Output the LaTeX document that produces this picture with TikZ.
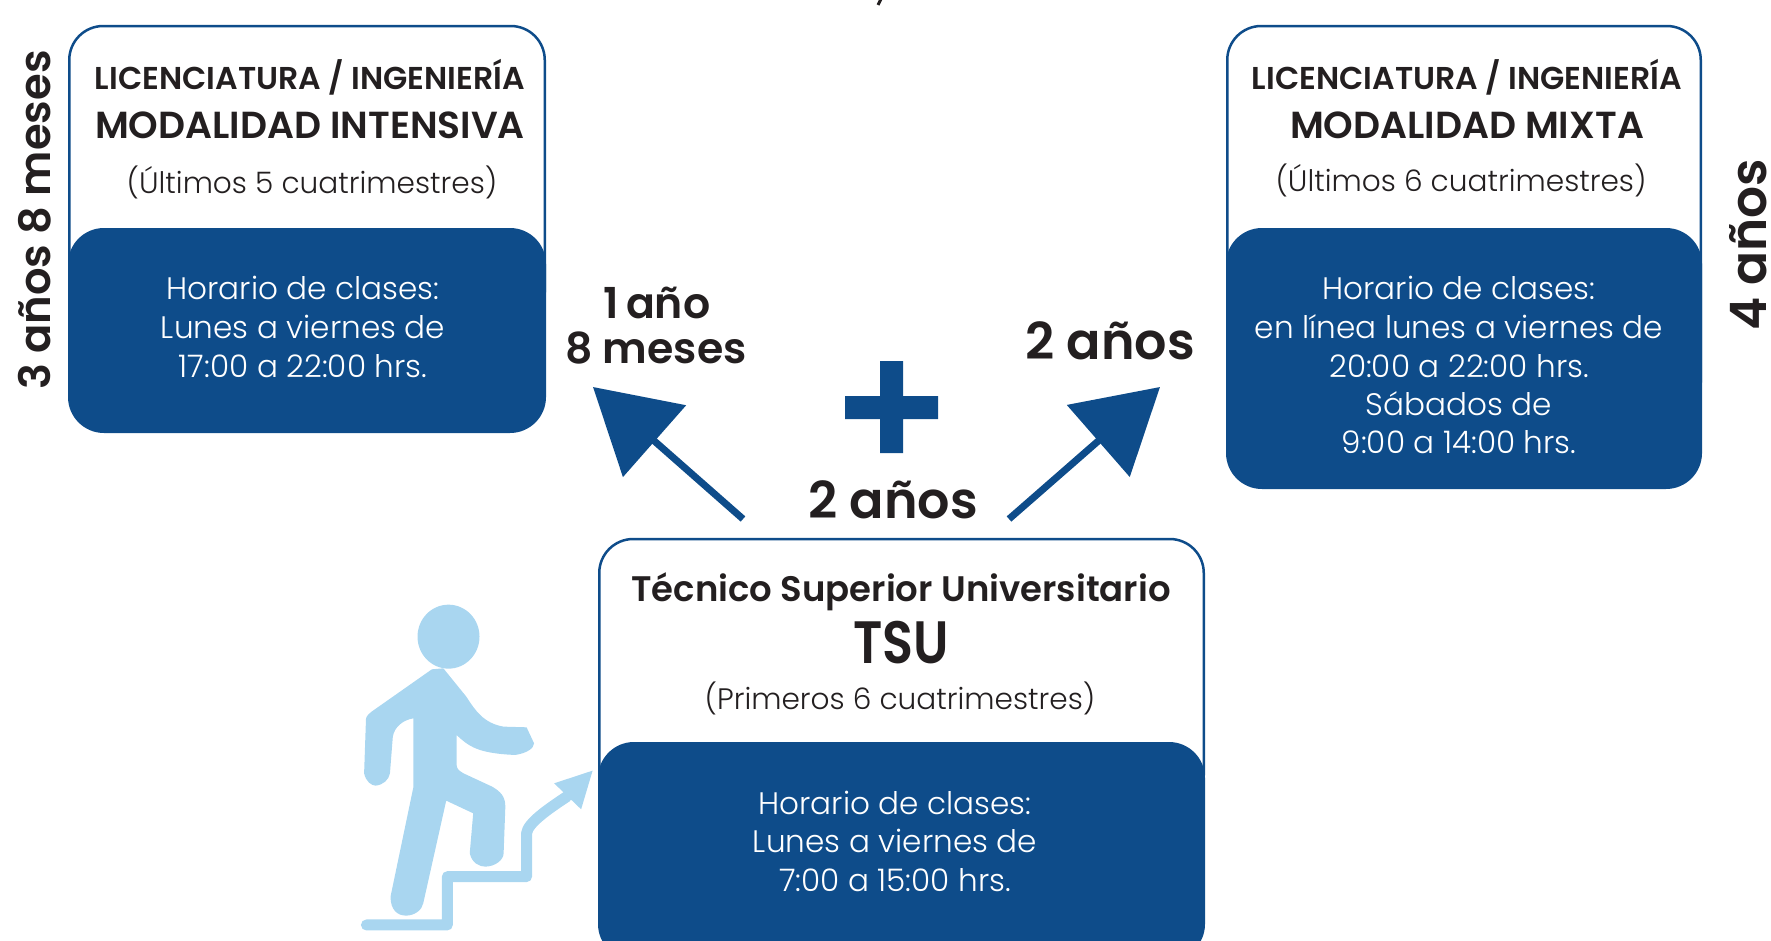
\documentclass[tikz,border=0pt]{standalone}
\usepackage{fontspec}
\usetikzlibrary{arrows.meta}
\setmainfont{Poppins}
\newfontfamily\lightf{Poppins Light}
\newfontfamily\semif{Poppins SemiBold}
\definecolor{uniblue}{HTML}{0E4C8A}
\definecolor{skyb}{HTML}{A9D6F0}
\definecolor{inkk}{HTML}{231F20}
\newcommand{\fs}[1]{\fontsize{#1}{#1}\selectfont}
\tikzset{
  cardw/.style={draw=uniblue,line width=2.5bp,fill=white,rounded corners=34bp,inner sep=0pt,outer sep=0pt,anchor=north west},
  cardb/.style={fill=uniblue,rounded corners=36bp,inner sep=0pt,outer sep=0pt,anchor=north west},
  head/.style={text=inkk,inner sep=0pt,font=\semif\fs{31.7}},
  title/.style={text=inkk,inner sep=0pt,font=\semif\fs{37.8}},
  sub/.style={text=inkk,inner sep=0pt,font=\lightf\fs{29.7}},
  sched/.style={text=white,inner sep=0pt,font=\lightf\fs{31.2}},
  dur/.style={text=inkk,inner sep=0pt,font=\semif\fs{51}},
  durs/.style={text=inkk,inner sep=0pt,font=\semif\fs{42.8}},
  bigarrow/.style={draw=uniblue,line width=7bp,-{Triangle[length=82bp,width=94bp,fill=uniblue]}},
}
\begin{document}
\begin{tikzpicture}[x=1bp,y=-1bp]
\clip (0,0) rectangle (1771,940);
% left card
\node[cardw,minimum width=475.5bp,minimum height=300bp] (lw) at (69.25,26) {};
\node[cardb,minimum width=478bp,minimum height=205bp] (lb) at (68,228) {};
\node[head] (l1) at (310,77) {LICENCIATURA / INGENIERÍA};
\node[title] (l2) at (310,125) {MODALIDAD INTENSIVA};
\node[sub] (l3) at (312,182) {(Últimos 5 cuatrimestres)};
\node[sched] (l4) at (303,288) {Horario de clases:};
\node[sched] (l5) at (303,327) {Lunes a viernes de};
\node[sched] (l6) at (303,366) {17:00 a 22:00 hrs.};
% right card
\node[cardw,minimum width=473.5bp,minimum height=390bp] (rw) at (1227.25,26) {};
\node[cardb,minimum width=476bp,minimum height=261bp] (rb) at (1226,228) {};
\node[head] (r1) at (1467,77) {LICENCIATURA / INGENIERÍA};
\node[title] (r2) at (1467,125) {MODALIDAD MIXTA};
\node[sub] (r3) at (1461,180) {(Últimos 6 cuatrimestres)};
\node[sched] (r4) at (1459,288) {Horario de clases:};
\node[sched] (r5) at (1459,327) {en línea lunes a viernes de};
\node[sched] (r6) at (1459,366) {20:00 a 22:00 hrs.};
\node[sched] (r7) at (1459,404) {Sábados de};
\node[sched] (r8) at (1459,442) {9:00 a 14:00 hrs.};
% tsu card
\node[cardw,minimum width=604.5bp,minimum height=270bp] (tw) at (599.25,539) {};
\node[cardb,minimum width=607bp,minimum height=218bp] (tb) at (598,742) {};
\node[head,font=\semif\fs{35.6}] (t1) at (901,592) {Técnico Superior Universitario};
\node[title,font=\semif\fs{60},xscale=0.85,transform shape] (t2) at (901,643) {TSU};
\node[sub] (t3) at (900,698) {(Primeros 6 cuatrimestres)};
\node[sched] (t4) at (895,803) {Horario de clases:};
\node[sched] (t5) at (895,841) {Lunes a viernes de};
\node[sched] (t6) at (895,880) {7:00 a 15:00 hrs.};
% durations
\node[durs,rotate=90,font=\semif\fs{43.4}] (d1) at (35,220) {3 años 8 meses};
\node[durs,rotate=90,font=\semif\fs{50.4}] (d2) at (1748,245) {4 años};
\node[durs] (d3) at (657,303) {1\kern7bp año};
\node[durs] (d4) at (656,348) {8 meses};
\node[dur] (d5) at (1110,341) {2 años};
\node[dur] (d6) at (893,500) {2 años};
% arrows
\coordinate (al) at (743,519);
\coordinate (alt) at (593,387);
\coordinate (ar) at (1009,519);
\coordinate (art) at (1160,387);
\draw[bigarrow] (al) -- (alt);
\draw[bigarrow] (ar) -- (art);
% plus
\fill[uniblue] (880,361) -- (903,361) -- (903,396) -- (938,396) -- (938,419) -- (903,419) -- (903,453) -- (880,453) -- (880,419) -- (845,419) -- (845,396) -- (880,396) -- cycle;
% clipped descender at the top edge
\draw[inkk,line width=3bp] (881,-1) -- (878,5);
% person
\begin{scope}[shift={(340,520)},x=0.5741bp,y=-0.3333bp]
\fill[skyb] (189,350) ellipse [x radius=54,y radius=96];
\fill[skyb] (160,448) -- (55,575) .. controls (45,590) .. (45,610) -- (42,760)
  .. controls (45,785) and (55,797) .. (62,797) .. controls (75,795) and (85,780) .. (87,760)
  -- (92,650) .. controls (95,620) and (110,600) .. (128,595) -- (128,800)
  -- (88,1130) .. controls (88,1170) and (100,1187) .. (115,1187) .. controls (130,1187) and (143,1170) .. (145,1150)
  -- (185,842) -- (232,880) -- (226,1000) .. controls (230,1030) and (243,1040) .. (253,1040) .. controls (270,1040) and (285,1020) .. (285,1000)
  -- (288,860) .. controls (288,830) and (280,815) .. (265,800) -- (215,760) .. controls (205,750) and (203,745) .. (203,730) -- (203,645)
  .. controls (225,680) and (240,700) .. (305,705) .. controls (325,700) and (338,685) .. (338,670)
  -- (325,622) -- (285,620) .. controls (250,610) and (235,570) .. (220,530) -- (180,445) -- cycle;
\draw[skyb,line width=11bp,line join=round,line cap=round] (46,1215) -- (187,1215) -- (187,1070) -- (325,1070) -- (325,940) .. controls (327,910) and (360,870) .. (395,830);
\fill[skyb] (440,752) -- (373,790) -- (420,868) -- cycle;
\end{scope}
\end{tikzpicture}
\end{document}
